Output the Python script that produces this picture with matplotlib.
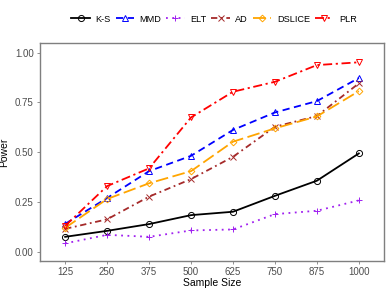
import matplotlib
matplotlib.use("Agg")
import matplotlib.pyplot as plt

plt.rcParams['font.family'] = ['Liberation Sans', 'DejaVu Sans']

sizes = ["125", "250", "375", "500", "625", "750", "875", "1000"]
ks = [0.075, 0.105, 0.139, 0.184, 0.201, 0.281, 0.357, 0.494]
mmd = [0.140, 0.270, 0.405, 0.482, 0.612, 0.700, 0.757, 0.873]
elt = [0.042, 0.085, 0.075, 0.107, 0.112, 0.189, 0.206, 0.258]
ad = [0.115, 0.163, 0.277, 0.365, 0.477, 0.628, 0.682, 0.846]
dslice = [0.120, 0.265, 0.344, 0.405, 0.553, 0.620, 0.680, 0.807]
plr = [0.130, 0.330, 0.419, 0.675, 0.804, 0.854, 0.938, 0.952]

series = [
    ("K-S", ks, "black", "-", "o"),
    ("MMD", mmd, "#0000FF", (0, (4, 2.5)), "^"),
    ("ELT", elt, "#A020F0", (0, (1, 2.5)), "+"),
    ("AD", ad, "#A52A2A", (0, (3.5, 2, 1, 2)), "x"),
    ("DSLICE", dslice, "#FFA500", (0, (7, 2.5)), "D"),
    ("PLR", plr, "#FF0000", (0, (5, 2, 1.2, 2)), "v"),
]

fig = plt.figure(figsize=(3.88, 2.91), dpi=100)
ax = fig.add_axes([40/388, 1-260.7/291, 344/388, (260.7-43)/291])
x = list(range(1, len(sizes)+1))
for name, vals, col, ls, mk in series:
    ms = {"D": 3.4, "+": 5.0}.get(mk, 4.4)
    ax.plot(x, vals, color=col, linestyle=ls, linewidth=1.3, marker=mk,
            markersize=ms, markerfacecolor='none', markeredgecolor=col,
            markeredgewidth=0.7, label=name)

ax.set_xlim(0.4, 8.6)
ax.set_ylim(-0.045, 1.049)
ax.set_xticks(x)
ax.set_xticklabels(sizes)
ax.set_yticks([0, 0.25, 0.5, 0.75, 1.0])
ax.set_yticklabels(["0.00", "0.25", "0.50", "0.75", "1.00"])
for s in ax.spines.values():
    s.set_color("#7f7f7f")
    s.set_linewidth(1.0)
ax.tick_params(axis='both', colors="#4d4d4d", labelsize=7, length=2.5, width=0.6,
               pad=2)
ax.tick_params(axis='both', color="#7f7f7f")
ax.set_xlabel("Sample Size", fontsize=7.5, labelpad=1, color="black")
ax.set_ylabel("Power", fontsize=7.5, labelpad=4, color="black")

leg = fig.legend(loc='center', bbox_to_anchor=(214/388, 1-19/291), ncol=6,
                 frameon=False, fontsize=6.6, handlelength=2.0, handletextpad=0.6,
                 columnspacing=0.55, borderaxespad=0, borderpad=0)
fig.savefig("out.png", dpi=100)
